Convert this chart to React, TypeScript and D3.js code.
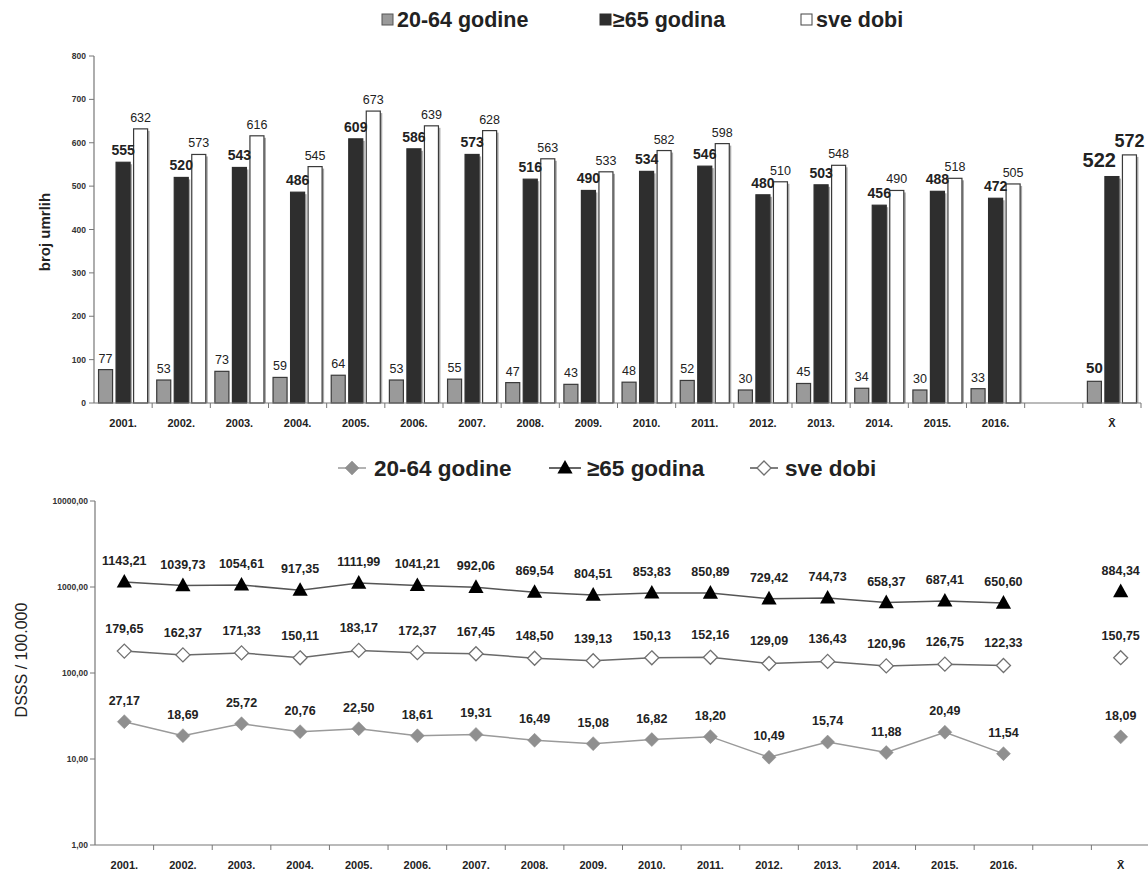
import React from "react";
import * as d3 from "d3";

const categories = ["2001.", "2002.", "2003.", "2004.", "2005.", "2006.", "2007.", "2008.", "2009.", "2010.", "2011.", "2012.", "2013.", "2014.", "2015.", "2016.", "", "X\u0304"];
const years = categories.slice(0, 16);
const meanCat = "X\u0304";

const count2064 = [77, 53, 73, 59, 64, 53, 55, 47, 43, 48, 52, 30, 45, 34, 30, 33];
const count65 = [555, 520, 543, 486, 609, 586, 573, 516, 490, 534, 546, 480, 503, 456, 488, 472];
const countAll = [632, 573, 616, 545, 673, 639, 628, 563, 533, 582, 598, 510, 548, 490, 518, 505];
const countMeans = [50, 522, 572];

const rate2064 = [27.17, 18.69, 25.72, 20.76, 22.5, 18.61, 19.31, 16.49, 15.08, 16.82, 18.2, 10.49, 15.74, 11.88, 20.49, 11.54];
const rate65 = [1143.21, 1039.73, 1054.61, 917.35, 1111.99, 1041.21, 992.06, 869.54, 804.51, 853.83, 850.89, 729.42, 744.73, 658.37, 687.41, 650.6];
const rateAll = [179.65, 162.37, 171.33, 150.11, 183.17, 172.37, 167.45, 148.5, 139.13, 150.13, 152.16, 129.09, 136.43, 120.96, 126.75, 122.33];
const rateMeans = [18.09, 884.34, 150.75];

const barTicks = [0, 100, 200, 300, 400, 500, 600, 700, 800];
const logTicks = [1, 10, 100, 1000, 10000];
const seriesNames = ["20-64 godine", "\u226565 godina", "sve dobi"];

const NARROW = "'Liberation Sans Narrow', 'Arial Narrow', 'Liberation Sans', Arial, sans-serif";
const SANS = "'Liberation Sans', Arial, sans-serif";

const fmt2 = (v: number) => d3.format(".2f")(v).replace(".", ",");

function diamondPath(cx: number, cy: number, r: number) {
  return `M${cx},${cy - r}L${cx + r},${cy}L${cx},${cy + r}L${cx - r},${cy}Z`;
}
function trianglePath(cx: number, cy: number, r: number) {
  return `M${cx},${cy - r}L${cx + r * 0.95},${cy + r * 0.7}L${cx - r * 0.95},${cy + r * 0.7}Z`;
}

export default function App() {
  const W = 1148, H = 875;

  // ---------- top bar chart ----------
  const x = d3.scaleBand<string>().domain(categories).range([94, 1141]).paddingInner(0).paddingOuter(0);
  const xs = d3.scaleBand<number>().domain([0, 1, 2]).range([0, x.bandwidth()]).paddingInner(0.2).paddingOuter(0.26);
  const y = d3.scaleLinear().domain([0, 800]).range([403, 56]);
  const barFill = ["#9a9a9a", "#2e2e2e", "#ffffff"];
  const barStroke = ["#3a3a3a", "#2e2e2e", "#3a3a3a"];
  const seriesCounts = [count2064, count65, countAll];

  const bars: React.ReactNode[] = [];
  const barLabels: React.ReactNode[] = [];
  seriesCounts.forEach((arr, s) => {
    arr.forEach((v, i) => {
      const cx = (x(years[i]) as number) + (xs(s) as number);
      bars.push(
        <g key={`b${s}-${i}`}>
          {s > 0 && <rect x={cx + xs.bandwidth()} y={y(v) + 2} width={2} height={y(0) - y(v) - 2} fill="#aaaaaa" />}
          <rect x={cx} y={y(v)} width={xs.bandwidth()} height={y(0) - y(v)} fill={barFill[s]} stroke={barStroke[s]} strokeWidth={1.2} />
        </g>
      );
      barLabels.push(
        <text key={`bl${s}-${i}`} x={cx + xs.bandwidth() / 2} y={y(v) - 7} textAnchor="middle"
          fontFamily={NARROW} fontSize={s === 1 ? 14 : 12.5} fontWeight={s === 1 ? "bold" : "normal"} fill="#222">{v}</text>
      );
    });
  });
  countMeans.forEach((v, s) => {
    const cx = (x(meanCat) as number) + (xs(s) as number);
    bars.push(
      <g key={`bm${s}`}>
        {s > 0 && <rect x={cx + xs.bandwidth()} y={y(v) + 2} width={2} height={y(0) - y(v) - 2} fill="#aaaaaa" />}
        <rect x={cx} y={y(v)} width={xs.bandwidth()} height={y(0) - y(v)} fill={barFill[s]} stroke={barStroke[s]} strokeWidth={1.2} />
      </g>
    );
    const size = s === 0 ? 15 : s === 1 ? 20 : 18;
    const lx = s === 1 ? cx + xs.bandwidth() - 3 : cx + xs.bandwidth() / 2;
    barLabels.push(
      <text key={`blm${s}`} x={lx} y={y(v) - (s === 1 ? 10 : 8)} textAnchor={s === 1 ? "end" : "middle"}
        fontFamily={NARROW} fontSize={size} fontWeight="bold" fill="#222">{v}</text>
    );
  });

  // ---------- bottom log chart ----------
  const x2 = d3.scaleBand<string>().domain(categories).range([95, 1150]).paddingInner(0).paddingOuter(0);
  const y2 = d3.scaleLog().domain([1, 10000]).range([845, 501]);
  const cxy = (c: string) => (x2(c) as number) + x2.bandwidth() / 2;
  const line = d3.line<number>().x((_, i) => cxy(years[i])).y((v) => y2(v));

  const lineSeries = [
    { data: rate2064, mean: rateMeans[0], stroke: "#9a9a9a", kind: "gd", off: 17 },
    { data: rate65, mean: rateMeans[1], stroke: "#555555", kind: "tri", off: 17 },
    { data: rateAll, mean: rateMeans[2], stroke: "#6a6a6a", kind: "wd", off: 18 },
  ];

  const marker = (kind: string, cx: number, cy: number, key: string) => {
    if (kind === "tri") return <path key={key} d={trianglePath(cx, cy, 8)} fill="#000" />;
    if (kind === "gd") return <path key={key} d={diamondPath(cx, cy, 7)} fill="#8f8f8f" stroke="#8f8f8f" strokeWidth={0.5} />;
    return <path key={key} d={diamondPath(cx, cy, 7)} fill="#fff" stroke="#707070" strokeWidth={1.3} />;
  };

  return (
    <svg width={W} height={H} style={{ display: "block", background: "#fff", position: "fixed", left: 0, top: 0 }} viewBox={`0 0 ${W} ${H}`}>
      <rect x={0} y={0} width={W} height={H} fill="#fff" />

      {/* top legend */}
      <g fontFamily={SANS} fontWeight="bold" fontSize={21.5} fill="#222">
        <rect x={382} y={14} width={11} height={11} fill="#9a9a9a" stroke="#555" />
        <text x={397} y={27}>{seriesNames[0]}</text>
        <rect x={600} y={14} width={11} height={11} fill="#2e2e2e" stroke="#2e2e2e" />
        <text x={613} y={27}>{seriesNames[1]}</text>
        <rect x={801} y={14} width={11} height={11} fill="#fff" stroke="#444" />
        <text x={816} y={27}>{seriesNames[2]}</text>
      </g>

      {/* top axes */}
      <g>
        <line x1={94} x2={94} y1={56} y2={403} stroke="#777" strokeWidth={1.2} />
        {barTicks.map((t) => (
          <g key={`yt${t}`}>
            <line x1={89} x2={94} y1={y(t)} y2={y(t)} stroke="#777" />
            <text x={86} y={y(t) + 3} textAnchor="end" fontFamily={NARROW} fontWeight="bold" fontSize={8.5} fill="#333">{t}</text>
          </g>
        ))}
        <text transform={`translate(50,232) rotate(-90)`} textAnchor="middle" fontFamily={SANS} fontWeight="bold" fontSize={15} fill="#222">broj umrlih</text>
      </g>
      {bars}
      <g>
        <line x1={94} x2={1141} y1={403} y2={403} stroke="#777" strokeWidth={1.2} />
        {categories.map((c, i) => (
          <line key={`xt${i}`} x1={(x(c) as number) + x.bandwidth()} x2={(x(c) as number) + x.bandwidth()} y1={403} y2={408} stroke="#777" />
        ))}
        {categories.map((c, i) => (
          <text key={`xl${i}`} x={(x(c) as number) + x.bandwidth() / 2} y={427} textAnchor="middle" fontFamily={NARROW} fontWeight="bold" fontSize={11} fill="#222">{c}</text>
        ))}
      </g>
      {barLabels}

      {/* bottom legend */}
      <g fontFamily={SANS} fontWeight="bold" fontSize={22.5} fill="#222">
        <line x1={338} x2={366} y1={468} y2={468} stroke="#9a9a9a" strokeWidth={1.5} />
        {marker("gd", 352, 468, "lg1")}
        <text x={374} y={476}>{seriesNames[0]}</text>
        <line x1={549} x2={581} y1={468} y2={468} stroke="#333" strokeWidth={1.5} />
        {marker("tri", 565, 468, "lg2")}
        <text x={587} y={476}>{seriesNames[1]}</text>
        <line x1={750} x2={778} y1={468} y2={468} stroke="#555" strokeWidth={1.5} />
        {marker("wd", 764, 468, "lg3")}
        <text x={785} y={476}>{seriesNames[2]}</text>
      </g>

      {/* bottom axes */}
      <g>
        <line x1={95} x2={95} y1={501} y2={845} stroke="#777" strokeWidth={1.2} />
        {logTicks.map((t) => (
          <g key={`lt${t}`}>
            <line x1={90} x2={95} y1={y2(t)} y2={y2(t)} stroke="#777" />
            <text x={88} y={y2(t) + 3} textAnchor="end" fontFamily={NARROW} fontWeight="bold" fontSize={8.5} fill="#333">{fmt2(t)}</text>
          </g>
        ))}
        <text transform={`translate(27,660) rotate(-90)`} textAnchor="middle" fontFamily={SANS} fontSize={16} fill="#222">DSSS / 100.000</text>
        <line x1={95} x2={1148} y1={845} y2={845} stroke="#777" strokeWidth={1.2} />
        {categories.map((c, i) => (
          <line key={`xt2${i}`} x1={(x2(c) as number) + x2.bandwidth()} x2={(x2(c) as number) + x2.bandwidth()} y1={845} y2={850} stroke="#777" />
        ))}
        {categories.map((c, i) => (
          <text key={`xl2${i}`} x={cxy(c)} y={869} textAnchor="middle" fontFamily={NARROW} fontWeight="bold" fontSize={11} fill="#222">{c}</text>
        ))}
      </g>

      {lineSeries.map((s, k) => (
        <g key={`ls${k}`}>
          <path d={line(s.data) as string} fill="none" stroke={s.stroke} strokeWidth={1.5} />
          {s.data.map((v, i) => marker(s.kind, cxy(years[i]), y2(v), `m${k}-${i}`))}
          {marker(s.kind, cxy(meanCat), y2(s.mean), `mm${k}`)}
          {s.data.map((v, i) => (
            <text key={`t${k}-${i}`} x={cxy(years[i])} y={y2(v) - s.off} textAnchor="middle" fontFamily={NARROW} fontWeight="bold" fontSize={12.5} fill="#222">{fmt2(v)}</text>
          ))}
          <text x={cxy(meanCat)} y={y2(s.mean) - s.off} textAnchor="middle" fontFamily={NARROW} fontWeight="bold" fontSize={12.5} fill="#222">{fmt2(s.mean)}</text>
        </g>
      ))}
    </svg>
  );
}
